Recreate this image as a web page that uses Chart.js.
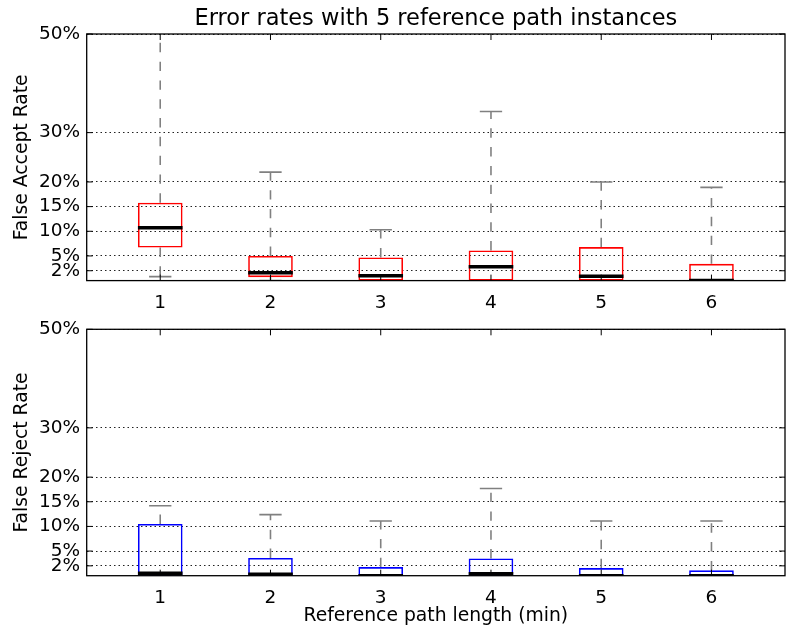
<!DOCTYPE html>
<html>
<head>
<meta charset="utf-8">
<script src="https://cdn.jsdelivr.net/npm/chart.js@4.4.1/dist/chart.umd.min.js"></script>
<style>
  body { margin: 0; background: #fff; }
  .box { position: absolute; left: 0; width: 797px; }
  #top { top: 0; height: 310px; }
  #bottom { top: 310px; height: 328px; }
</style>
</head>
<body>
<div class="box" id="top"><canvas id="faChart"></canvas></div>
<div class="box" id="bottom"><canvas id="frChart"></canvas></div>
<script>
const categories = [1, 2, 3, 4, 5, 6];
const yTicks = [2, 5, 10, 15, 20, 30, 50];

// false accept rate (%)
const faMin = [0.8, 0, 0, 0, 0, 0];
const faQ1 = [6.7, 0.7, 0, 0, 0, 0];
const faMed = [10.7, 1.6, 1.0, 2.8, 0.9, 0];
const faQ3 = [15.8, 5.0, 4.7, 6.1, 6.8, 3.4];
const faMax = [52, 22.0, 10.3, 34.3, 20.0, 18.9];

// false reject rate (%)
const frMin = [0, 0, 0, 0, 0, 0];
const frQ1 = [0, 0, 0, 0, 0, 0];
const frMed = [0.5, 0.3, 0, 0.4, 0, 0];
const frQ3 = [10.5, 3.6, 1.75, 3.5, 1.55, 1.1];
const frMax = [14.2, 12.4, 11.1, 17.7, 11.1, 11.1];

Chart.defaults.font.family = 'DejaVu Sans';
Chart.defaults.color = '#000';

const boxHalf = 0.2025;
const capHalf = boxHalf / 2;

// matplotlib style frame with inward ticks
const framePlugin = {
    id: 'frame',
    afterDraw(chart) {
        const { ctx, chartArea: a, scales: { x, y } } = chart;
        ctx.save();
        ctx.strokeStyle = '#000';
        ctx.lineWidth = 1;
        ctx.beginPath();
        categories.forEach(c => {
            const px = x.getPixelForValue(c);
            ctx.moveTo(px, a.top); ctx.lineTo(px, a.top + 6);
            ctx.moveTo(px, a.bottom); ctx.lineTo(px, a.bottom - 6);
        });
        yTicks.forEach(v => {
            const py = y.getPixelForValue(v);
            ctx.moveTo(a.left, py); ctx.lineTo(a.left + 6, py);
            ctx.moveTo(a.right, py); ctx.lineTo(a.right - 6, py);
        });
        ctx.stroke();
        ctx.lineWidth = 1.3;
        ctx.strokeRect(a.left, a.top, a.right - a.left, a.bottom - a.top);
        ctx.restore();
    }
};

function makeChart(id, stats, color, yTitle, cfg) {
    const { min, q1, med, q3, max } = stats;

    const whiskers = [];
    const caps = [];
    const medians = [];
    categories.forEach((c, i) => {
        whiskers.push({ x: c, y: q3[i] }, { x: c, y: max[i] }, { x: c, y: null });
        whiskers.push({ x: c, y: q1[i] }, { x: c, y: min[i] }, { x: c, y: null });
        caps.push({ x: c - capHalf, y: max[i] }, { x: c + capHalf, y: max[i] }, { x: c, y: null });
        caps.push({ x: c - capHalf, y: min[i] }, { x: c + capHalf, y: min[i] }, { x: c, y: null });
        medians.push({ x: c - boxHalf, y: med[i] }, { x: c + boxHalf, y: med[i] }, { x: c, y: null });
    });

    const lineStyle = { type: 'line', pointRadius: 0, spanGaps: false, fill: false, tension: 0, borderCapStyle: 'butt' };

    return new Chart(document.getElementById(id), {
        type: 'bar',
        data: {
            datasets: [
                { ...lineStyle, label: 'median', data: medians, borderColor: '#000', borderWidth: 3.5, order: 0 },
                {
                    label: 'box',
                    data: categories.map((c, i) => ({ x: c, y: [q1[i], q3[i]] })),
                    backgroundColor: 'rgba(0,0,0,0)',
                    borderColor: color,
                    borderWidth: 1.6,
                    borderSkipped: false,
                    categoryPercentage: 1,
                    barPercentage: boxHalf * 2,
                    grouped: false,
                    order: 1
                },
                { ...lineStyle, label: 'caps', data: caps, borderColor: '#808080', borderWidth: 1.6, order: 2 },
                { ...lineStyle, label: 'whiskers', data: whiskers, borderColor: '#808080', borderWidth: 1.6, borderDash: [9.4, 9.4], order: 3 }
            ]
        },
        options: {
            responsive: true,
            maintainAspectRatio: false,
            animation: false,
            layout: { padding: { left: 0, right: 12, top: cfg.padTop, bottom: 0 } },
            plugins: {
                legend: { display: false },
                tooltip: { enabled: false },
                title: {
                    display: !!cfg.title,
                    text: cfg.title,
                    fullSize: false,
                    font: { size: 22.5, weight: 'normal' },
                    color: '#000',
                    padding: { top: 5.4, bottom: 1.6 }
                }
            },
            scales: {
                x: {
                    type: 'linear',
                    min: 1 - 0.667,
                    max: 6 + 0.667,
                    offset: false,
                    afterBuildTicks: s => { s.ticks = categories.map(v => ({ value: v })); },
                    afterFit: s => { s.height = cfg.xHeight; },
                    grid: { display: false },
                    border: { display: false },
                    ticks: { font: { size: 18.5 }, color: '#000', padding: 3.6, autoSkip: false, maxRotation: 0 },
                    title: {
                        display: !!cfg.xTitle,
                        text: cfg.xTitle,
                        font: { size: 18.75 },
                        color: '#000',
                        padding: { top: 0, bottom: 10.5 }
                    }
                },
                y: {
                    type: 'linear',
                    min: 0,
                    max: 50,
                    afterBuildTicks: s => { s.ticks = yTicks.map(v => ({ value: v })); },
                    afterFit: s => { s.width = 86.7; },
                    grid: { color: '#222', lineWidth: 1, drawTicks: false },
                    border: { display: false, dash: [1.5, 3] },
                    ticks: { font: { size: 18.5 }, color: '#000', padding: 6.7, autoSkip: false, callback: v => v + '%' },
                    title: {
                        display: true,
                        text: yTitle,
                        font: { size: 18.75 },
                        color: '#000',
                        padding: { top: 10.7, bottom: 0 }
                    }
                }
            }
        },
        plugins: [framePlugin]
    });
}

makeChart('faChart', { min: faMin, q1: faQ1, med: faMed, q3: faQ3, max: faMax }, '#ff0000', 'False Accept Rate',
    { title: 'Error rates with 5 reference path instances', padTop: 0, xHeight: 29.4 });
makeChart('frChart', { min: frMin, q1: frQ1, med: frMed, q3: frQ3, max: frMax }, '#0000ff', 'False Reject Rate',
    { xTitle: 'Reference path length (min)', padTop: 19.3, xHeight: 62.3 });
</script>
</body>
</html>
